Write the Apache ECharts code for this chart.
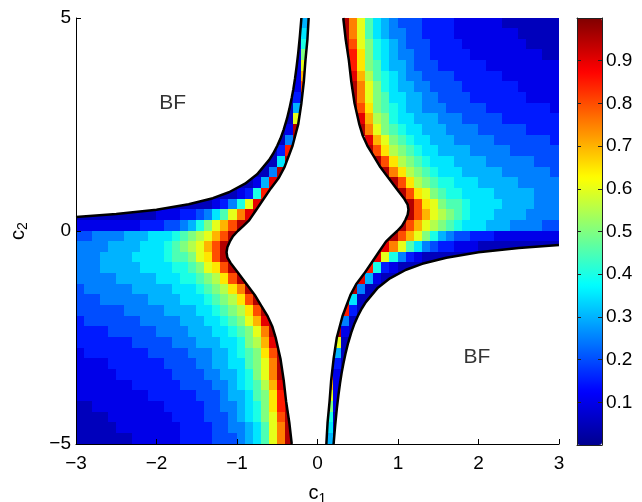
<!DOCTYPE html>
<html>
<head>
<meta charset="utf-8">
<script src="https://cdn.jsdelivr.net/npm/echarts@6/dist/echarts.min.js"></script>
<style>
  html, body { margin: 0; padding: 0; background: #fff; }
  #chart { width: 642px; height: 502px; }
</style>
</head>
<body>
<div id="chart"></div>
<script>
// cell centres of the sampled field
const c1Centers = [-2.95, -2.85, -2.75, -2.65, -2.55, -2.45, -2.35, -2.25, -2.15, -2.05,
  -1.95, -1.85, -1.75, -1.65, -1.55, -1.45, -1.35, -1.25, -1.15, -1.05,
  -0.95, -0.85, -0.75, -0.65, -0.55, -0.45, -0.35, -0.25, -0.15, -0.05,
  0.05, 0.15, 0.25, 0.35, 0.45, 0.55, 0.65, 0.75, 0.85, 0.95,
  1.05, 1.15, 1.25, 1.35, 1.45, 1.55, 1.65, 1.75, 1.85, 1.95,
  2.05, 2.15, 2.25, 2.35, 2.45, 2.55, 2.65, 2.75, 2.85, 2.95];
const c2Centers = [4.875, 4.625, 4.375, 4.125, 3.875, 3.625, 3.375, 3.125, 2.875, 2.625,
  2.375, 2.125, 1.875, 1.625, 1.375, 1.125, 0.875, 0.625, 0.375, 0.125,
  -0.125, -0.375, -0.625, -0.875, -1.125, -1.375, -1.625, -1.875, -2.125, -2.375,
  -2.625, -2.875, -3.125, -3.375, -3.625, -3.875, -4.125, -4.375, -4.625, -4.875];

// one string per c2 row (top first), one letter per c1 cell:
// a=0.00 b=0.05 c=0.10 ... t=0.95 u=1.00, '.' = no value (BF region / gap)
const levelCodes = 'abcdefghijklmnopqrstu';
const fieldRows = [
  '...........................bg....tpmjhgfeeeddddccccccbbbbbbb',
  '...........................bh....tpmjhgffeeddddccccccccbbbbb',
  '...........................bi....tqmkihgfeeeddddccccccccbbbb',
  '...........................ck....trnkihgffeedddddcccccccccbb',
  '...........................cm....trnkjhggfeeeddddddccccccccc',
  '...........................co.....soljihgffeeeeddddddccccccc',
  '..........................bcq.....tpmkihggffeeeedddddddccccc',
  '..........................bdt.....tpmkjhhggffeeeedddddddcccc',
  '..........................bg......tqnkjihggfffeeeeeddddddddc',
  '..........................bm.......solkihhgggfffeeeeeddddddd',
  '.........................bct.......tpmkjihhgggffffeeeeeedddd',
  '.........................bft........somkjihhgggfffffeeeeeeed',
  '........................bdr.........tqnlkjihhggggfffffeeeeee',
  '.......................bbht..........tqnlkjihhhggggffffffeee',
  '......................bbft............tpnlkjihhhgggggffffffe',
  '....................bbcgst............ttqnlkjiihhhgggggfffff',
  '................bbbbcdirt..............ttqnmkjiihhhhgggggfff',
  '..........bbbbbbbcdfimst................ttqnmkjjihhhhggggfff',
  'bbbbbbbbbbcccddefhjmpst.................ttqomlkjihhhggggffff',
  'ccccccccdddeefgikmoqtt.................ttqomlkjihhhgggffffee',
  'eeffffggghhhijklmoqtt.................ttqomkigfeedddcccccccc',
  'ffffgggghhhijklmoqtt.................tspmjhfeddcccbbbbbbbbbb',
  'fffgggghhhhijjkmnqtt................tsmifdcbbbbbbb..........',
  'fffggggghhhhiijkmnqtt..............tridcbbbb................',
  'fffffggggghhhiijklnqtt............tsgcbb....................',
  'effffffggggghhhijklnptt...........tfbb......................',
  'eeeffffffgggghhhijklnqt..........thbb.......................',
  'eeeeeefffffgggghhijklnqt.........rdb........................',
  'deeeeeeefffffggghhijkmost.......tfb.........................',
  'ddddeeeeeeffffggghhijkmpt.......tcb.........................',
  'dddddddeeeeefffggghhiklost......mb..........................',
  'cddddddddeeeeefffgghijknqt......gb..........................',
  'ccccdddddddeeeeffgghhjkmpt.....tdb..........................',
  'cccccdddddddeeeeffgghikmpt.....qcb..........................',
  'cccccccddddddeeeeffghijlos.....oc...........................',
  'cccccccccddddddeeefgghjknrt....mc...........................',
  'bbcccccccccdddddeeffghiknrt....kc...........................',
  'bbbbccccccccddddeeefghikmqt....ib...........................',
  'bbbbbccccccccddddeeffghjmpt....hb...........................',
  'bbbbbbbccccccddddeeefghjmpt....gb...........................'
];

// black boundary curves (c1, c2)
const bfLeft = [[-3, 0.33], [-2.5, 0.4], [-2, 0.5], [-1.6, 0.63], [-1.3, 0.77], [-1.1, 0.91],
  [-0.9, 1.11], [-0.75, 1.33], [-0.6, 1.67], [-0.55, 1.82], [-0.5, 2.0], [-0.46, 2.17],
  [-0.42, 2.38], [-0.38, 2.63], [-0.35, 2.86], [-0.32, 3.13], [-0.3, 3.33], [-0.28, 3.57],
  [-0.26, 3.85], [-0.24, 4.17], [-0.22, 4.55], [-0.2, 5]];
const bfRight = [[0.2, -5], [0.22, -4.55], [0.24, -4.17], [0.26, -3.85], [0.28, -3.57],
  [0.3, -3.33], [0.32, -3.13], [0.35, -2.86], [0.38, -2.63], [0.42, -2.38], [0.46, -2.17],
  [0.5, -2.0], [0.55, -1.82], [0.6, -1.67], [0.75, -1.33], [0.9, -1.11], [1.1, -0.91],
  [1.3, -0.77], [1.6, -0.63], [2, -0.5], [2.5, -0.4], [3, -0.33]];
const gapLeft = [[-0.11, 5], [-0.125, 4.5], [-0.15, 4], [-0.17, 3.5], [-0.2, 3], [-0.24, 2.5],
  [-0.31, 2], [-0.36, 1.75], [-0.41, 1.5], [-0.48, 1.25], [-0.58, 1], [-0.67, 0.75],
  [-0.76, 0.5], [-0.85, 0.25], [-0.92, 0.12], [-0.99, 0], [-1.05, -0.12], [-1.09, -0.25],
  [-1.12, -0.38], [-1.13, -0.5], [-1.12, -0.62], [-1.08, -0.75], [-0.98, -1], [-0.88, -1.25],
  [-0.78, -1.5], [-0.7, -1.75], [-0.62, -2], [-0.56, -2.25], [-0.52, -2.5], [-0.46, -3],
  [-0.42, -3.5], [-0.39, -4], [-0.35, -4.5], [-0.32, -5]];
const gapRight = [[0.32, 5], [0.35, 4.5], [0.39, 4], [0.42, 3.5], [0.46, 3], [0.52, 2.5],
  [0.56, 2.25], [0.62, 2], [0.7, 1.75], [0.78, 1.5], [0.88, 1.25], [0.98, 1], [1.08, 0.75],
  [1.12, 0.62], [1.13, 0.5], [1.12, 0.38], [1.09, 0.25], [1.05, 0.12], [0.99, 0], [0.92, -0.12],
  [0.85, -0.25], [0.76, -0.5], [0.67, -0.75], [0.58, -1], [0.48, -1.25], [0.41, -1.5],
  [0.36, -1.75], [0.31, -2], [0.24, -2.5], [0.2, -3], [0.17, -3.5], [0.15, -4],
  [0.125, -4.5], [0.11, -5]];

const bfLabels = [[-1.8, 3.0], [1.98, -2.96]];
const cbarTicks = [0.1, 0.2, 0.3, 0.4, 0.5, 0.6, 0.7, 0.8, 0.9];

const font = '"Liberation Sans", Arial, Helvetica, sans-serif';
const jet = ['#00008f', '#0000ff', '#0080ff', '#00ffff', '#80ff80', '#ffff00', '#ff8000', '#ff0000', '#800000'];
const cellW = 0.1, cellH = 0.25;

let cells = [];
fieldRows.forEach(function (row, r) {
    if (row.length !== c1Centers.length) throw new Error('row ' + r + ' has ' + row.length);
    for (let i = 0; i < row.length; i++) {
        const k = levelCodes.indexOf(row[i]);
        if (k < 0) continue;
        cells.push([c1Centers[i], c2Centers[r], k / 20]);
    }
});

// white areas: the two BF regions and the gap in the middle
const maskShapes = [
    bfLeft.concat([[-3, 5]]),
    bfRight.concat([[3, -5]]),
    gapLeft.concat(gapRight.slice().reverse())
];

function renderCell(params, api) {
    const x = api.value(0), y = api.value(1);
    const p0 = api.coord([x - cellW / 2, y + cellH / 2]);
    const p1 = api.coord([x + cellW / 2, y - cellH / 2]);
    const x0 = Math.floor(p0[0]), y0 = Math.floor(p0[1]);
    return {
        type: 'rect',
        shape: { x: x0, y: y0, width: Math.ceil(p1[0]) - x0, height: Math.ceil(p1[1]) - y0 },
        style: { fill: api.visual('color') }
    };
}

function renderMask(params, api) {
    const pts = maskShapes[params.dataIndex].map(function (p) { return api.coord(p); });
    return { type: 'polygon', shape: { points: pts }, style: { fill: '#fff' } };
}

function curve(data) {
    return {
        type: 'line', data: data, showSymbol: false, silent: true, z: 3,
        lineStyle: { color: '#000', width: 2.5 }
    };
}

const minus = function (v) { return String(v).replace('-', '\u2212'); };
const nameRich = {
    c: { fontSize: 20, fontFamily: font, color: '#000', verticalAlign: 'top', lineHeight: 22 },
    s: { fontSize: 14, fontFamily: font, color: '#000', verticalAlign: 'bottom', lineHeight: 14, padding: [14, 0, 0, 0] }
};
const mainAxis = {
    z: 10,
    axisLine: { onZero: false, lineStyle: { color: '#000', width: 1 } },
    axisTick: { inside: true, length: 5, lineStyle: { color: '#000' } },
    axisLabel: { formatter: minus, fontSize: 19, color: '#000', fontFamily: font },
    splitLine: { show: false }
};
const cbarAxis = {
    gridIndex: 1, type: 'value', min: 0, max: 1, z: 10,
    axisLine: { onZero: false, lineStyle: { color: '#222', width: 1 } },
    axisTick: { show: false },
    axisLabel: { show: false },
    splitLine: { show: false }
};

let myChart = echarts.init(document.getElementById('chart'));
let option = {
    animation: false,
    textStyle: { fontFamily: font },
    grid: [
        { left: 76, top: 18, width: 483, height: 426, outerBoundsMode: 'none', containLabel: false },
        { left: 577, top: 18, width: 25, height: 427, outerBoundsMode: 'none', containLabel: false }
    ],
    xAxis: [
        Object.assign({}, mainAxis, {
            gridIndex: 0, type: 'value', min: -3, max: 3, interval: 1,
            axisLabel: Object.assign({}, mainAxis.axisLabel, { margin: 10 }),
            name: '{c|c}{s|1}', nameLocation: 'middle', nameGap: 32,
            nameTextStyle: { rich: nameRich }
        }),
        Object.assign({}, cbarAxis, { position: 'bottom' }),
        Object.assign({}, cbarAxis, { position: 'top' })
    ],
    yAxis: [
        Object.assign({}, mainAxis, {
            gridIndex: 0, type: 'value', min: -5, max: 5, interval: 5,
            axisLabel: Object.assign({}, mainAxis.axisLabel, { margin: 5 }),
            name: '{c|c}{s|2}', nameLocation: 'middle', nameGap: 46, nameRotate: 90,
            nameTextStyle: { rich: nameRich }
        }),
        Object.assign({}, cbarAxis, {
            position: 'left',
            axisTick: { show: true, inside: true, length: 4, customValues: cbarTicks, lineStyle: { color: '#222' } }
        }),
        Object.assign({}, cbarAxis, {
            position: 'right',
            axisTick: { show: true, inside: true, length: 4, customValues: cbarTicks, lineStyle: { color: '#222' } },
            axisLabel: {
                show: true, customValues: cbarTicks, margin: 4, fontSize: 19, color: '#000', fontFamily: font,
                formatter: function (v) { return v.toFixed(1); }
            }
        })
    ],
    visualMap: {
        type: 'continuous', min: 0, max: 1, dimension: 2, seriesIndex: 0,
        calculable: false, left: 577, top: 18, itemWidth: 25, itemHeight: 427, padding: 0,
        inRange: { color: jet }
    },
    series: [
        {
            type: 'custom', xAxisIndex: 0, yAxisIndex: 0, data: cells,
            encode: { x: 0, y: 1 }, renderItem: renderCell, silent: true, z: 1
        },
        {
            type: 'custom', xAxisIndex: 0, yAxisIndex: 0,
            data: maskShapes.map(function (s, i) { return [i, 0]; }),
            encode: { x: 0, y: 1 }, renderItem: renderMask, silent: true, z: 2
        },
        curve(bfLeft),
        curve(bfRight),
        curve(gapLeft),
        curve(gapRight),
        {
            type: 'scatter', data: bfLabels, symbolSize: 1, silent: true, z: 4,
            itemStyle: { color: 'rgba(0,0,0,0)' },
            label: { show: true, position: 'inside', formatter: 'BF', fontSize: 21, color: '#000', fontFamily: font }
        }
    ]
};
myChart.setOption(option);
</script>
</body>
</html>
